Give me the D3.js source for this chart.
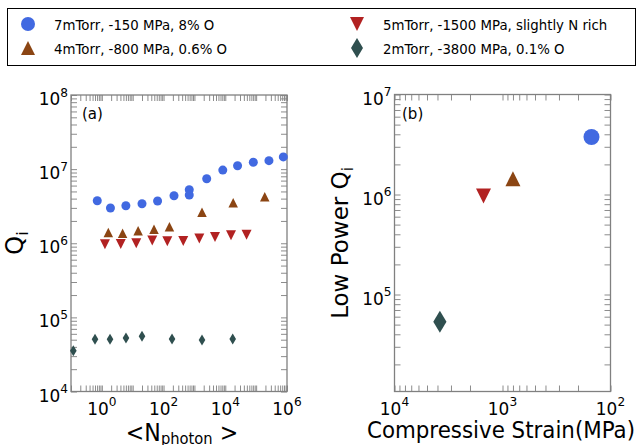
<!DOCTYPE html>
<html>
<head>
<meta charset="utf-8">
<script src="https://cdnjs.cloudflare.com/ajax/libs/d3/7.8.5/d3.min.js"></script>
<style>
  body { margin: 0; background: #fff; }
  svg text { font-family: "DejaVu Sans", sans-serif; }
</style>
</head>
<body>
<script>
// legend text
var seriesNames = ['7mTorr, -150 MPa, 8% O', '4mTorr, -800 MPa, 0.6% O',
                   '5mTorr, -1500 MPa, slightly N rich', '2mTorr, -3800 MPa, 0.1% O'];
var seriesColors = ['#4169E1', '#8B4513', '#B22222', '#2F4F4F'];
var seriesShapes = ['circle', 'up', 'down', 'diamond'];

// panel (a): Qi vs <N_photon>
var blueN  = [0.71, 1.9, 6, 20, 64, 218, 680, 680, 2500, 8300, 25000, 81000, 2.6e5, 7.6e5];
var blueQ  = [3.75e6, 2.99e6, 3.2e6, 3.41e6, 3.71e6, 4.37e6, 5.27e6, 4.47e6, 7.42e6, 9.7e6, 1.11e7, 1.24e7, 1.3e7, 1.46e7];
var brownN = [1.62, 4.7, 15, 49, 155, 1760, 18000, 1.9e5];
var brownQ = [1.4e6, 1.36e6, 1.48e6, 1.54e6, 1.67e6, 2.61e6, 3.52e6, 4.25e6];
var redN   = [1.26, 4.1, 13, 43, 132, 435, 1440, 4640, 15300, 49000];
var redQ   = [9.67e5, 9.75e5, 1.0e6, 1.09e6, 1.06e6, 1.07e6, 1.16e6, 1.21e6, 1.28e6, 1.3e6];
var slateN = [0.119, 0.6, 1.84, 6.05, 20, 188, 1760, 17400];
var slateQ = [3.54e4, 5.05e4, 5.05e4, 5.26e4, 5.55e4, 5.1e4, 4.94e4, 5.1e4];

// panel (b): low power Qi vs compressive strain
var strain = [150, 800, 1500, 3800];
var lowQ   = [3.76e6, 1.44e6, 9.67e5, 5.35e4];

// tick labels (powers of ten)
var xTicksA = [0, 2, 4, 6];
var yTicksA = [4, 5, 6, 7, 8];
var xTicksB = [4, 3, 2];
var yTicksB = [5, 6, 7];

var W = 642, H = 445;
var svg = d3.select('body').append('svg')
            .attr('width', W)
            .attr('height', H);

var boxA = {left: 71, right: 287, top: 95, bottom: 391.5};
var boxB = {left: 394.5, right: 610.5, top: 94.5, bottom: 391.5};

var xA = d3.scaleLog().domain([0.1, 1e6]).range([boxA.left, boxA.right]);
var yA = d3.scaleLog().domain([1e4, 1e8]).range([boxA.bottom, boxA.top]);
var xB = d3.scaleLog().domain([1e4, 1e2]).range([boxB.left, boxB.right]);
var yB = d3.scaleLog().domain([Math.pow(10, 4.03), 1e7]).range([boxB.bottom, boxB.top]);

var markerPath = function(kind, s){
  var h = s / 2;
  if (kind === 'circle') {
    return 'M' + h + ',0A' + h + ',' + h + ' 0 1,1 ' + (-h) + ',0A' + h + ',' + h + ' 0 1,1 ' + h + ',0Z';
  } else if (kind === 'up') {
    return 'M0,' + (-h) + 'L' + h + ',' + h + 'L' + (-h) + ',' + h + 'Z';
  } else if (kind === 'down') {
    return 'M0,' + h + 'L' + h + ',' + (-h) + 'L' + (-h) + ',' + (-h) + 'Z';
  }
  return 'M0,' + (-h) + 'L' + (0.6 * h) + ',0L0,' + h + 'L' + (-0.6 * h) + ',0Z';
};

var supLabel = function(sel, p, fs){
  sel.append('tspan').text('10');
  sel.append('tspan').attr('dy', -fs * 0.45).style('font-size', (fs * 0.72) + 'px').text(p);
};

var drawFrame = function(box, x, y, xt, yt){
  var g = svg.append('g');
  var tl = 6;
  var axes = [
    d3.axisBottom(x).tickSize(-tl), d3.axisTop(x).tickSize(-tl),
    d3.axisLeft(y).tickSize(-tl), d3.axisRight(y).tickSize(-tl)
  ];
  var pos = ['translate(0,' + box.bottom + ')', 'translate(0,' + box.top + ')',
             'translate(' + box.left + ',0)', 'translate(' + box.right + ',0)'];
  axes.forEach(function(ax, i){
    var a = g.append('g').attr('transform', pos[i])
             .call(ax.tickFormat(''));
    a.select('.domain').remove();
    a.selectAll('line').attr('stroke', '#8c8c8c').attr('stroke-width', 1);
  });
  g.append('rect')
    .attr('x', box.left).attr('y', box.top)
    .attr('width', box.right - box.left).attr('height', box.bottom - box.top)
    .attr('fill', 'none').attr('stroke', '#808080').attr('stroke-width', 1.3);

  g.selectAll('text.xl').data(xt).enter().append('text')
    .attr('class', 'xl')
    .attr('transform', function(d){ return 'translate(' + x(Math.pow(10, d)) + ',' + (box.bottom + 23) + ') scale(0.94,1)'; })
    .attr('text-anchor', 'middle')
    .style('font-size', '18px')
    .each(function(d){ supLabel(d3.select(this), d, 18); });

  g.selectAll('text.yl').data(yt).enter().append('text')
    .attr('class', 'yl')
    .attr('transform', function(d){ return 'translate(' + (box.left - 3) + ',' + (y(Math.pow(10, d)) + 10) + ') scale(0.94,1)'; })
    .attr('text-anchor', 'end')
    .style('font-size', '18px')
    .each(function(d){ supLabel(d3.select(this), d, 18); });
};

drawFrame(boxA, xA, yA, xTicksA, yTicksA);
drawFrame(boxB, xB, yB, xTicksB, yTicksB);

// panel (a) points
var seriesA = [[blueN, blueQ, 9], [brownN, brownQ, 9.5], [redN, redQ, 10], [slateN, slateQ, 11]];
seriesA.forEach(function(s, i){
  var pts = s[0].map(function(n, k){ return {n: n, q: s[1][k]}; });
  svg.append('g').selectAll('path').data(pts).enter().append('path')
    .attr('d', markerPath(seriesShapes[i], s[2]))
    .attr('transform', function(d){ return 'translate(' + xA(d.n) + ',' + yA(d.q) + ')'; })
    .attr('fill', seriesColors[i]);
});

// panel (b) points
var sizesB = [16, 15, 15, 22];
svg.append('g').selectAll('path').data(strain).enter().append('path')
  .attr('d', function(d, i){ return markerPath(seriesShapes[i], sizesB[i]); })
  .attr('transform', function(d, i){ return 'translate(' + xB(d) + ',' + yB(lowQ[i]) + ')'; })
  .attr('fill', function(d, i){ return seriesColors[i]; });

// panel tags
svg.append('text').attr('transform', 'translate(82,119) scale(0.94,1)').style('font-size', '16px').text('(a)');
svg.append('text').attr('transform', 'translate(402,119) scale(0.94,1)').style('font-size', '16px').text('(b)');

// axis titles
var xt = svg.append('text').attr('transform', 'translate(182,441) scale(0.92,1)')
            .attr('text-anchor', 'middle').style('font-size', '24px');
xt.append('tspan').text('<N');
xt.append('tspan').attr('dy', 3).style('font-size', '16px').text('photon');
xt.append('tspan').attr('dy', -3).text(' >');

svg.append('text').attr('transform', 'translate(501,438) scale(0.93,1)')
   .attr('text-anchor', 'middle').style('font-size', '23px')
   .text('Compressive Strain(MPa)');

var yt1 = svg.append('text').attr('transform', 'translate(23,243) rotate(-90)')
             .attr('text-anchor', 'middle').style('font-size', '24px');
yt1.append('tspan').text('Q');
yt1.append('tspan').attr('dy', 5).style('font-size', '16px').text('i');

var yt2 = svg.append('text').attr('transform', 'translate(348,243) rotate(-90)')
             .attr('text-anchor', 'middle').style('font-size', '23px');
yt2.append('tspan').text('Low Power Q');
yt2.append('tspan').attr('dy', 5).style('font-size', '15px').text('i');

// legend
var lg = svg.append('g');
lg.append('rect').attr('x', 7.5).attr('y', 8.5).attr('width', 628).attr('height', 57)
  .attr('fill', '#fff').attr('stroke', '#000').attr('stroke-width', 1);
var legPos = [[28, 24], [28, 48], [357, 24], [357, 48]];
var legSizes = [14, 14, 14, 20];
seriesNames.forEach(function(name, i){
  lg.append('path')
    .attr('d', markerPath(seriesShapes[i], legSizes[i]))
    .attr('transform', 'translate(' + legPos[i][0] + ',' + legPos[i][1] + ')')
    .attr('fill', seriesColors[i]);
  lg.append('text')
    .attr('transform', 'translate(' + (legPos[i][0] + 26) + ',' + (legPos[i][1] + 5.5) + ') scale(0.9,1)')
    .style('font-size', '14.8px')
    .text(name);
});
</script>
</body>
</html>
